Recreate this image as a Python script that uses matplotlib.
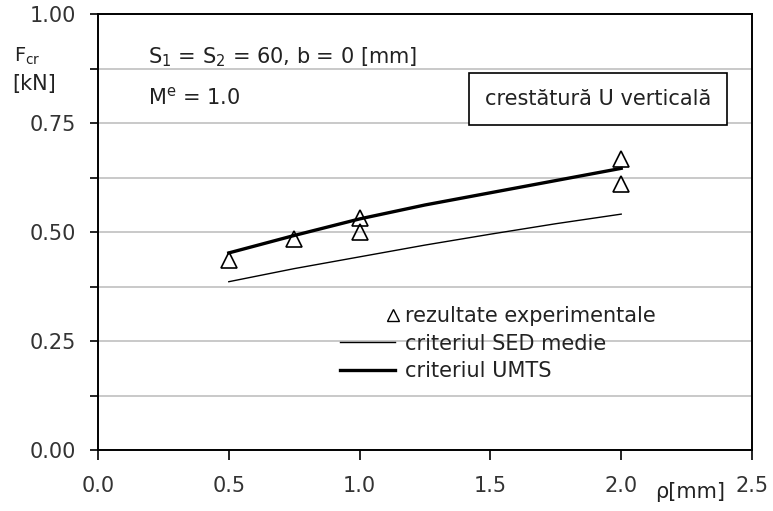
import numpy as np
import matplotlib
matplotlib.use('Agg')
import matplotlib.pyplot as plt
from matplotlib.lines import Line2D
from matplotlib.legend_handler import HandlerLine2D

# raza de racordare rho [mm]
rho_exp  = [0.5, 0.75, 1.0, 1.0, 2.0, 2.0]
fcr_exp  = [0.436, 0.484, 0.531, 0.499, 0.667, 0.610]

rho_crit = [0.5, 0.75, 1.0, 1.25, 1.5, 1.75, 2.0]
fcr_sed  = [0.386, 0.416, 0.443, 0.470, 0.495, 0.519, 0.541]
fcr_umts = [0.452, 0.492, 0.530, 0.562, 0.590, 0.618, 0.646]

x_ticks = [0.0, 0.5, 1.0, 1.5, 2.0, 2.5]
y_ticks = [0.00, 0.25, 0.50, 0.75, 1.00]
y_grid  = np.arange(0, 1.0001, 0.125)

FS = 15
plt.rcParams['font.family'] = ['DejaVu Sans']
plt.rcParams['mathtext.fontset'] = 'dejavusans'

fig = plt.figure(figsize=(7.73, 5.11), dpi=100)
ax = fig.add_axes([98/773, 61/511, 654/773, 436/511])

for g in y_grid:
    ax.axhline(g, color='#c0c0c0', lw=1.2, zorder=0)

ax.plot(rho_crit, fcr_sed, color='black', lw=1.0, zorder=2)
ax.plot(rho_crit, fcr_umts, color='black', lw=2.4, zorder=3)
ax.plot(rho_exp, fcr_exp, ls='none', marker='^', ms=11, mfc='none',
        mec='black', mew=1.2, zorder=4)

ax.set_xlim(0, 2.5)
ax.set_ylim(0, 1.0)
ax.set_xticks(x_ticks)
ax.set_xticklabels([f'{v:.1f}' for v in x_ticks])
ax.set_yticks(y_ticks)
ax.set_yticklabels([f'{v:.2f}' for v in y_ticks])
ax.set_yticks(y_grid, minor=True)
ax.tick_params(axis='x', direction='out', length=7, width=1.2, pad=12,
               labelsize=FS, colors='black', labelcolor='#333333')
ax.tick_params(axis='y', which='both', direction='out', length=6, width=1.2,
               pad=10, labelsize=FS, colors='black', labelcolor='#333333')
for s in ax.spines.values():
    s.set_linewidth(1.4)
    s.set_color('black')

# etichetele axelor
fig.text(14/773, 1 - 56/511, r'F$_{\rm cr}$', fontsize=FS - 1, va='center',
         ha='left', color='#222222')
fig.text(12/773, 1 - 84/511, '[kN]', fontsize=FS, va='center', ha='left',
         color='#222222')
fig.text(690/773, 1 - 492/511, '\u03c1[mm]', fontsize=FS, va='center',
         ha='center', color='#222222')

fig.text(148/773, 1 - 57/511, r'S$_1$ = S$_2$ = 60, b = 0 [mm]', fontsize=FS,
         va='center', ha='left', color='#222222')
fig.text(148/773, 1 - 97/511, r'M$^{\rm e}$ = 1.0', fontsize=FS,
         va='center', ha='left', color='#222222')

fig.text(598/773, 1 - 99/511, 'crestătură U verticală', fontsize=FS,
         va='center', ha='center', color='#222222',
         bbox=dict(boxstyle='square,pad=0.75', fc='white', ec='black', lw=1.2))


class MarkerAtRight(HandlerLine2D):
    # pune triunghiul din legenda langa text, nu in mijlocul liniei
    def get_xdata(self, legend, xdescent, ydescent, width, height, fontsize):
        xm = -xdescent + width - 0.1 * fontsize
        return [xm - 1, xm + 1], [xm]


h_exp  = Line2D([], [], ls='none', marker='^', ms=9, mfc='none', mec='black',
                mew=1.0)
h_sed  = Line2D([], [], color='black', lw=1.0)
h_umts = Line2D([], [], color='black', lw=2.4)
leg = ax.legend([h_exp, h_sed, h_umts],
                ['rezultate experimentale', 'criteriul SED medie',
                 'criteriul UMTS'],
                loc='upper left', bbox_to_anchor=(232/654, 1 - 282/436),
                frameon=False, fontsize=FS, handlelength=2.6,
                handletextpad=0.5, labelspacing=0.35, borderpad=0,
                handler_map={h_exp: MarkerAtRight(numpoints=1)})
for t in leg.get_texts():
    t.set_color('#222222')

fig.savefig('out.png', dpi=100)
